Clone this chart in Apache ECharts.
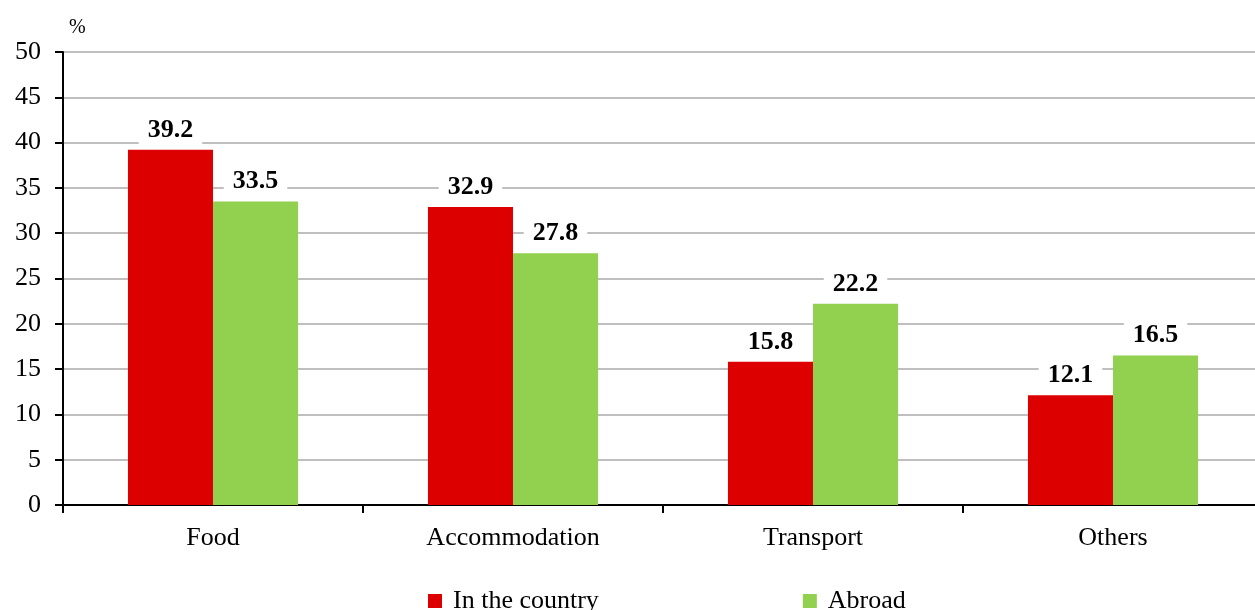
<!DOCTYPE html>
<html><head><meta charset="utf-8">
<script src="https://cdn.jsdelivr.net/npm/echarts@6/dist/echarts.min.js"></script>
<style>html,body{margin:0;padding:0;background:#fff}#c{width:1255px;height:610px}</style>
</head><body><div id="c"></div>
<script>
const categories = ['Food', 'Accommodation', 'Transport', 'Others'];
const inCountry = [39.2, 32.9, 15.8, 12.1];
const abroad = [33.5, 27.8, 22.2, 16.5];
const seriesNames = ['In the country', 'Abroad'];

const font = 'Liberation Serif';
const chart = echarts.init(document.getElementById('c'));
const labelOpt = {
  show: true, position: 'top', distance: 2,
  fontFamily: font, fontSize: 26, fontWeight: 'bold', color: '#000',
  backgroundColor: '#fff', padding: [2, 9, 5, 9],
  formatter: p => p.value.toFixed(1)
};
chart.setOption({
  animation: false,
  textStyle: { fontFamily: font },
  grid: { left: 63, top: 52, width: 1200, bottom: 105, containLabel: false, outerBoundsMode: 'none' },
  legend: {
    left: 423, top: 583, itemWidth: 14, itemHeight: 14, itemGap: 204,
    icon: 'rect',
    textStyle: { fontFamily: font, fontSize: 26, color: '#000', padding: [0, 0, 0, 6] },
    data: seriesNames
  },
  xAxis: {
    type: 'category', data: categories,
    axisLine: { lineStyle: { color: '#000', width: 2 } },
    axisTick: { show: true, length: 8, lineStyle: { color: '#000', width: 2 } },
    axisLabel: { fontFamily: font, fontSize: 26, color: '#000', margin: 20 },
    splitLine: { show: false }
  },
  yAxis: {
    type: 'value', min: 0, max: 50, interval: 5,
    name: '%', nameLocation: 'end', nameGap: 14,
    nameTextStyle: { fontFamily: font, fontSize: 20, color: '#000', align: 'left', padding: [0, 0, 0, 6] },
    axisLine: { show: true, lineStyle: { color: '#000', width: 2 } },
    axisTick: { show: true, length: 8, inside: false, lineStyle: { color: '#000', width: 2 } },
    axisLabel: { fontFamily: font, fontSize: 26, color: '#000', margin: 22 },
    splitLine: { lineStyle: { color: '#BFBFBF', width: 2 } }
  },
  series: [
    { name: seriesNames[0], type: 'bar', data: inCountry, barGap: '0%', barCategoryGap: '43.3%',
      itemStyle: { color: '#DD0000' }, label: labelOpt, z: 3 },
    { name: seriesNames[1], type: 'bar', data: abroad, barGap: '0%', barCategoryGap: '43.3%',
      itemStyle: { color: '#92D050' }, label: labelOpt, z: 3 }
  ]
});
</script></body></html>
